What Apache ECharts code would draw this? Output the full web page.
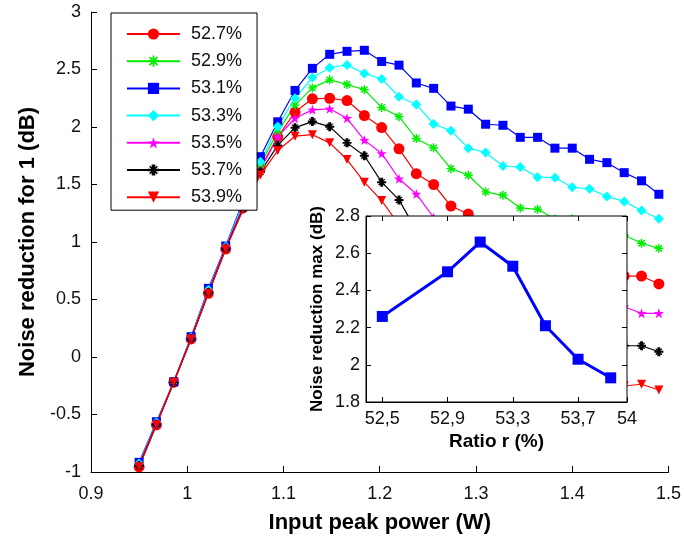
<!DOCTYPE html>
<html><head><meta charset="utf-8">
<script src="https://cdn.jsdelivr.net/npm/echarts@6/dist/echarts.min.js"></script>
<style>html,body{margin:0;padding:0;background:#fff}#c{width:684px;height:540px}</style>
</head><body><div id="c"></div>
<script>
// ---- data ----
const inputPower = [0.95,0.968,0.986,1.004,1.022,1.04,1.058,1.076,1.094,1.112,1.13,1.148,1.166,1.184,1.202,1.22,1.238,1.256,1.274,1.292,1.31,1.328,1.346,1.364,1.382,1.4,1.418,1.436,1.454,1.472,1.49];
const r527 = [-0.955,-0.59,-0.22,0.157,0.554,0.939,1.30,1.643,1.915,2.13,2.245,2.25,2.23,2.10,1.995,1.81,1.594,1.50,1.313,1.243,1.12,1.08,0.98,0.95,0.86,0.84,0.77,0.74,0.704,0.704,0.635];
const r529 = [-0.935,-0.58,-0.215,0.165,0.575,0.95,1.32,1.67,1.96,2.19,2.34,2.41,2.37,2.325,2.17,2.09,1.90,1.82,1.638,1.58,1.436,1.406,1.296,1.284,1.20,1.20,1.15,1.10,1.061,0.989,0.945];
const r531 = [-0.916,-0.563,-0.215,0.177,0.597,0.965,1.36,1.742,2.045,2.318,2.51,2.632,2.658,2.667,2.57,2.538,2.383,2.336,2.182,2.155,2.024,2.015,1.91,1.91,1.816,1.816,1.719,1.69,1.603,1.532,1.415];
const r533 = [-0.925,-0.57,-0.215,0.17,0.585,0.96,1.34,1.698,2.005,2.25,2.43,2.515,2.54,2.465,2.418,2.263,2.196,2.026,1.968,1.816,1.778,1.661,1.652,1.564,1.559,1.476,1.462,1.395,1.353,1.274,1.202];
const r535 = [-0.935,-0.58,-0.215,0.165,0.57,0.955,1.31,1.626,1.915,2.076,2.149,2.158,2.076,1.886,1.77,1.55,1.418,1.213,1.08,0.98,0.88,0.82,0.72,0.67,0.58,0.54,0.49,0.46,0.437,0.38,0.38];
const r537 = [-0.945,-0.585,-0.22,0.16,0.56,0.945,1.29,1.609,1.84,1.994,2.047,2.003,1.862,1.75,1.52,1.366,1.10,0.96,0.80,0.70,0.56,0.48,0.37,0.31,0.22,0.18,0.14,0.11,0.098,0.098,0.046];
const r539 = [-0.955,-0.59,-0.22,0.157,0.554,0.939,1.28,1.583,1.795,1.92,1.933,1.862,1.717,1.52,1.36,1.15,0.95,0.80,0.62,0.50,0.36,0.25,0.14,0.06,-0.03,-0.08,-0.15,-0.21,-0.252,-0.237,-0.287];
const seriesNames = ['52.7%','52.9%','53.1%','53.3%','53.5%','53.7%','53.9%'];
const seriesValues = [r527,r529,r531,r533,r535,r537,r539];
const xTicks = [0.9,1.0,1.1,1.2,1.3,1.4,1.5];
const yTicks = [-1,-0.5,0,0.5,1,1.5,2,2.5,3];

const ratio = [52.5,52.9,53.1,53.3,53.5,53.7,53.9];
const nrMax = [2.26,2.50,2.66,2.53,2.21,2.03,1.93];
const insetXTicks = [52.5,52.9,53.3,53.7,54];

// ---- style ----
const FONT = "'Liberation Sans', Arial, sans-serif";
const colors = ['#ff0000','#00ee00','#0000ff','#00ffff','#ff00ff','#000000','#ff0000'];
const asterisk = 'path://M-5,-0.8L5,-0.8L5,0.8L-5,0.8Z M-0.8,-5L0.8,-5L0.8,5L-0.8,5Z M-2.97,-4.10L4.10,2.97L2.97,4.10L-4.10,-2.97Z M-4.10,2.97L2.97,-4.10L4.10,-2.97L-2.97,4.10Z';
const plusMark = 'path://M-5,-1.1L5,-1.1L5,1.1L-5,1.1Z M-1.6,-5L1.6,-5L1.6,5L-1.6,5Z M-2.9,-3.9L3.9,2.9L2.9,3.9L-3.9,-2.9Z M-3.9,2.9L2.9,-3.9L3.9,-2.9L-2.9,3.9Z';
const star = 'path://M0,-5L1.176,-1.618L4.755,-1.545L1.902,0.618L2.939,4.045L0,2L-2.939,4.045L-1.902,0.618L-4.755,-1.545L-1.176,-1.618Z';
const symbols = ['circle', asterisk, 'rect', 'diamond', star, plusMark, 'triangle'];
const symSizes = [11, 9, 9, 10, 10, 9, 9];
const symRot = [0,0,0,0,0,0,180];

const mainSeries = seriesNames.map((name, k) => ({
  name, type: 'line', xAxisIndex: 0, yAxisIndex: 0,
  data: inputPower.map((x, i) => [x, seriesValues[k][i]]),
  symbol: symbols[k], symbolSize: symSizes[k], symbolRotate: symRot[k],
  showAllSymbol: true,
  itemStyle: { color: colors[k] },
  lineStyle: { color: colors[k], width: 1.2 },
  z: 2, animation: false
}));

const chart = echarts.init(document.getElementById('c'), null, { renderer: 'canvas' });
const axisLabelStyle = { fontFamily: FONT, fontSize: 18, color: '#111' };
chart.setOption({
  backgroundColor: '#fff',
  animation: false,
  grid: [
    { left: 91, right: 9, top: 12, bottom: 68, show: false },
    { left: 366, top: 216, width: 261, height: 186, show: true, backgroundColor: '#fff', borderColor: '#000', borderWidth: 1, z: 3 }
  ],
  xAxis: [
    { type: 'value', gridIndex: 0, min: 0.9, max: 1.5, interval: 0.1,
      name: 'Input peak power (W)', nameLocation: 'middle', nameGap: 40,
      nameTextStyle: { fontFamily: FONT, fontSize: 22, fontWeight: 'bold', color: '#000' },
      axisLine: { show: true, onZero: false, lineStyle: { color: '#000', width: 1 } },
      axisTick: { show: true, inside: true, length: 6, lineStyle: { color: '#000' } },
      axisLabel: Object.assign({ margin: 13 }, axisLabelStyle),
      splitLine: { show: false } },
    { type: 'value', gridIndex: 1, min: 52.4, max: 54, z: 4,
      name: 'Ratio r (%)', nameLocation: 'middle', nameGap: 30,
      nameTextStyle: { fontFamily: FONT, fontSize: 19, fontWeight: 'bold', color: '#000' },
      axisLine: { show: true, onZero: false, lineStyle: { color: '#000', width: 1 } },
      axisTick: { show: true, inside: true, length: 5, customValues: insetXTicks, lineStyle: { color: '#000' } },
      axisLabel: Object.assign({ margin: 8, customValues: insetXTicks, formatter: v => String(v).replace('.', ',') }, axisLabelStyle),
      splitLine: { show: false } },
    { type: 'value', gridIndex: 1, min: 52.4, max: 54, position: 'top', z: 4,
      axisLine: { show: false, onZero: false },
      axisTick: { show: true, inside: true, length: 5, customValues: insetXTicks, lineStyle: { color: '#000' } },
      axisLabel: { show: false }, splitLine: { show: false } }
  ],
  yAxis: [
    { type: 'value', gridIndex: 0, min: -1, max: 3, interval: 0.5,
      name: 'Noise reduction for 1 (dB)', nameLocation: 'middle', nameGap: 52,
      nameTextStyle: { fontFamily: FONT, fontSize: 22, fontWeight: 'bold', color: '#000' },
      axisLine: { show: true, onZero: false, lineStyle: { color: '#000', width: 1 } },
      axisTick: { show: true, inside: true, length: 6, lineStyle: { color: '#000' } },
      axisLabel: Object.assign({ margin: 10 }, axisLabelStyle),
      splitLine: { show: false } },
    { type: 'value', gridIndex: 1, min: 1.8, max: 2.8, interval: 0.2, z: 4,
      name: 'Noise reduction max (dB)', nameLocation: 'middle', nameGap: 40,
      nameTextStyle: { fontFamily: FONT, fontSize: 17, fontWeight: 'bold', color: '#000' },
      axisLine: { show: true, onZero: false, lineStyle: { color: '#000', width: 1 } },
      axisTick: { show: true, inside: true, length: 5, lineStyle: { color: '#000' } },
      axisLabel: Object.assign({ margin: 6 }, axisLabelStyle),
      splitLine: { show: false } },
    { type: 'value', gridIndex: 1, min: 1.8, max: 2.8, interval: 0.2, position: 'right', z: 4,
      axisLine: { show: false, onZero: false },
      axisTick: { show: true, inside: true, length: 5, lineStyle: { color: '#000' } },
      axisLabel: { show: false }, splitLine: { show: false } }
  ],
  legend: {
    data: seriesNames, orient: 'vertical', left: 111, top: 13,
    backgroundColor: '#fff', borderColor: '#000', borderWidth: 1,
    padding: [12, 15, 4, 15], itemWidth: 53, itemHeight: 14, itemGap: 9.2,
    textStyle: { fontFamily: FONT, fontSize: 18, color: '#111', padding: [0, 0, 0, 6] },
    z: 10
  },
  series: mainSeries.concat([{
    name: 'inset', type: 'line', xAxisIndex: 1, yAxisIndex: 1,
    data: ratio.map((x, i) => [x, nrMax[i]]),
    symbol: 'rect', symbolSize: 11,
    itemStyle: { color: '#0000ff' }, lineStyle: { color: '#0000ff', width: 3 },
    z: 5, animation: false
  }])
});
</script>
</body></html>
